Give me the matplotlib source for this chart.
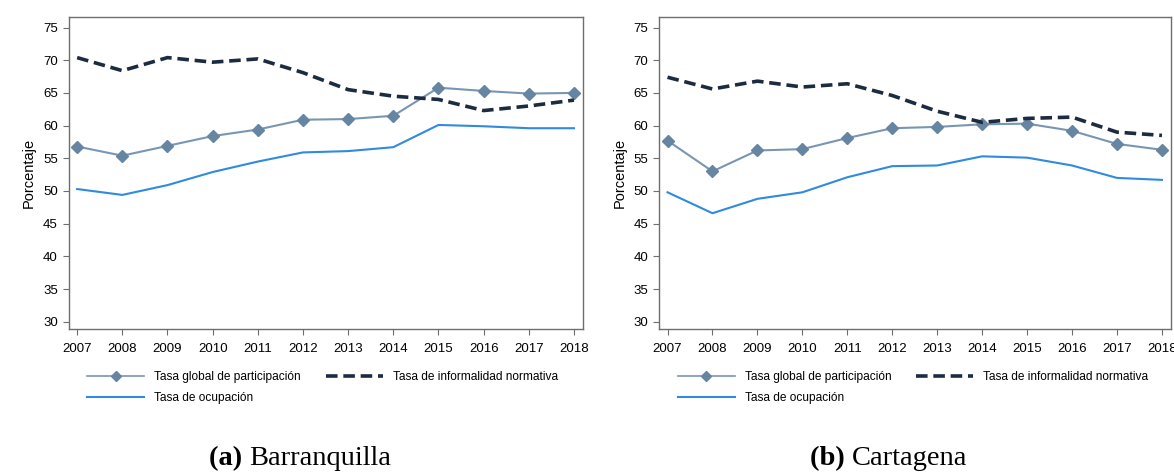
import matplotlib
matplotlib.use("Agg")
from matplotlib import pyplot as plt
from matplotlib.lines import Line2D

years = [2007, 2008, 2009, 2010, 2011, 2012, 2013, 2014, 2015, 2016, 2017, 2018]

# Barranquilla
baq_tgp = [56.8, 55.4, 56.9, 58.4, 59.4, 60.9, 61.0, 61.5, 65.8, 65.3, 64.9, 65.0]
baq_inf = [70.4, 68.4, 70.4, 69.7, 70.2, 68.1, 65.5, 64.5, 64.0, 62.3, 63.0, 63.9]
baq_ocu = [50.3, 49.4, 50.9, 52.9, 54.5, 55.9, 56.1, 56.7, 60.1, 59.9, 59.6, 59.6]

# Cartagena
ctg_tgp = [57.7, 53.0, 56.2, 56.4, 58.1, 59.6, 59.8, 60.2, 60.3, 59.2, 57.2, 56.3]
ctg_inf = [67.4, 65.6, 66.8, 65.9, 66.4, 64.6, 62.2, 60.5, 61.1, 61.3, 59.0, 58.5]
ctg_ocu = [49.8, 46.6, 48.8, 49.8, 52.1, 53.8, 53.9, 55.3, 55.1, 53.9, 52.0, 51.7]

yticks = [30, 35, 40, 45, 50, 55, 60, 65, 70, 75]
labels = ["Tasa global de participación", "Tasa de informalidad normativa", "Tasa de ocupación"]
captions = [("(a)", "Barranquilla"), ("(b)", "Cartagena")]

plt.rcParams["font.family"] = ["Liberation Sans", "DejaVu Sans"]

C_TGP = "#7896b3"
C_TGP_MK = "#6585a3"
C_INF = "#1b2b40"
C_OCU = "#2f8ae0"
C_SPINE = "#6e6e6e"

fig = plt.figure(figsize=(11.74, 4.74), dpi=100)

ax1 = fig.add_axes([0.0588, 0.306, 0.4378, 0.658])
ax2 = fig.add_axes([0.5617, 0.306, 0.4357, 0.658])

for ax, tgp, inf, ocu in [(ax1, baq_tgp, baq_inf, baq_ocu), (ax2, ctg_tgp, ctg_inf, ctg_ocu)]:
    ax.plot(years, ocu, color=C_OCU, lw=1.5, zorder=2)
    ax.plot(years, tgp, color=C_TGP, lw=1.5, marker="D", markersize=6,
            markerfacecolor=C_TGP_MK, markeredgecolor=C_TGP_MK, zorder=3)
    ax.plot(years, inf, color=C_INF, lw=2.6, dashes=(3.2, 1.6), zorder=4)

    ax.set_xlim(2006.82, 2018.2)
    ax.set_ylim(28.9, 76.6)
    ax.set_xticks(years)
    ax.set_yticks(yticks)
    ax.tick_params(axis="both", labelsize=9.5, color=C_SPINE, length=4, width=0.8, pad=4)
    ax.tick_params(axis="x", pad=6)
    for s in ax.spines.values():
        s.set_color(C_SPINE)
        s.set_linewidth(1.0)
    ax.set_ylabel("Porcentaje", fontsize=10.5, labelpad=5)

    handles = [
        Line2D([], [], color=C_TGP, lw=1.2, marker="D", markersize=5,
               markerfacecolor=C_TGP_MK, markeredgecolor=C_TGP_MK),
        Line2D([], [], color=C_OCU, lw=1.5),
        Line2D([], [], color=C_INF, lw=2.6, dashes=(3.2, 1.6)),
    ]
    ax.legend(handles, [labels[0], labels[2], labels[1]], ncol=2, frameon=False,
              fontsize=8.6, handlelength=4.75, handletextpad=0.85, columnspacing=2.1,
              labelspacing=0.75, loc="upper left", bbox_to_anchor=(0.015, -0.1))

for (tag, name), cx in zip(captions, [0.212, 0.7257]):
    fig.text(cx, 0.019, tag + " ", fontsize=20.5, fontweight="bold",
             family="Liberation Serif", ha="right", va="baseline")
    fig.text(cx, 0.019, name, fontsize=20.5, family="Liberation Serif",
             ha="left", va="baseline")

fig.savefig("out.png", dpi=100)
